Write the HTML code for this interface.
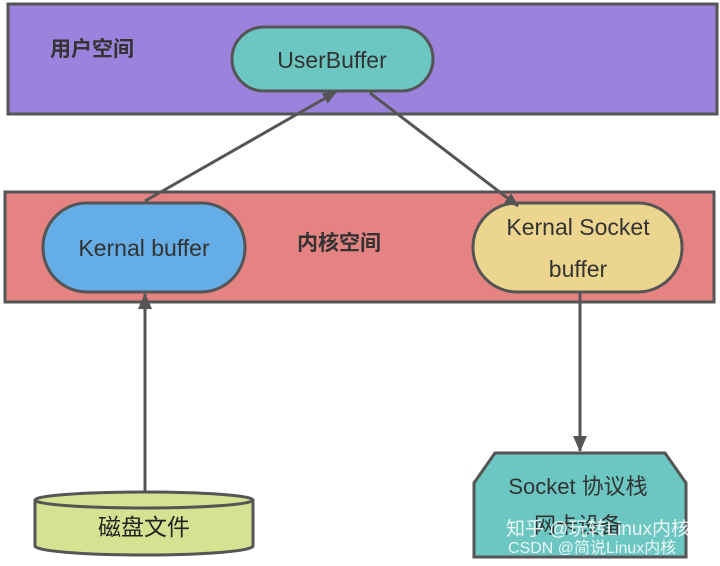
<!DOCTYPE html>
<html><head><meta charset="utf-8"><style>
body{margin:0;background:#fff;width:720px;height:561px;overflow:hidden}
text{font-family:"Liberation Sans","Noto Sans CJK SC",sans-serif}
</style></head><body>
<svg width="720" height="561" viewBox="0 0 720 561">
<defs><marker id="a" markerWidth="14" markerHeight="14" refX="13" refY="7" orient="auto" markerUnits="userSpaceOnUse" viewBox="0 0 14 14"><path d="M0,1 L14,7 L0,13 z" fill="#555"/></marker>
<marker id="b" markerWidth="16" markerHeight="16" refX="15" refY="8" orient="auto" markerUnits="userSpaceOnUse" viewBox="0 0 16 16"><path d="M0,1 L16,8 L0,15 z" fill="#555"/></marker></defs>
<rect x="8" y="4" width="709" height="110" fill="#9b82dc" stroke="#555" stroke-width="3"/>
<rect x="5" y="192" width="709" height="110" fill="#e58383" stroke="#555" stroke-width="3"/>
<text x="50" y="56" font-size="21" font-weight="bold" fill="#333">用户空间</text>
<text x="297" y="250" font-size="21" font-weight="bold" fill="#333">内核空间</text>
<rect x="232" y="27" width="201" height="64" rx="32" fill="#6cc6c2" stroke="#555" stroke-width="3"/>
<text x="332" y="68" font-size="23" text-anchor="middle" fill="#333">UserBuffer</text>
<rect x="43" y="203" width="202" height="89" rx="44" fill="#65ade6" stroke="#555" stroke-width="3"/>
<text x="144" y="256" font-size="23" text-anchor="middle" fill="#333">Kernal buffer</text>
<rect x="473" y="203" width="209" height="89" rx="44" fill="#ecd58e" stroke="#555" stroke-width="3"/>
<text x="578" y="235" font-size="23" text-anchor="middle" fill="#333">Kernal Socket</text>
<text x="578" y="277" font-size="23" text-anchor="middle" fill="#333">buffer</text>
<line x1="145" y1="201" x2="336" y2="92" stroke="#555" stroke-width="3" marker-end="url(#a)"/>
<line x1="370" y1="93" x2="518" y2="206" stroke="#555" stroke-width="3" marker-end="url(#a)"/>
<line x1="145" y1="492" x2="145" y2="294" stroke="#555" stroke-width="3" marker-end="url(#b)"/>
<line x1="580" y1="293" x2="580" y2="451" stroke="#555" stroke-width="3" marker-end="url(#b)"/>
<path d="M35,500 L35,546 A109,9 0 0 0 253,546 L253,500" fill="#d4e291" stroke="#555" stroke-width="3"/>
<ellipse cx="144" cy="500" rx="109" ry="8" fill="#d4e291" stroke="#555" stroke-width="3"/>
<text x="144" y="535" font-size="23" text-anchor="middle" fill="#222">磁盘文件</text>
<path d="M495,453 L665,453 L686,483 L686,557 L474,557 L474,483 Z" fill="#6cc6c2" stroke="#555" stroke-width="3"/>
<text x="578" y="494" font-size="22" text-anchor="middle" fill="#333">Socket 协议栈</text>
<text x="578" y="533" font-size="22" text-anchor="middle" fill="#333">网卡设备</text>
<text x="506" y="535" font-size="19" fill="#fff" opacity="0.85">知乎 @玩转Linux内核</text>
<text x="508" y="553" font-size="16" fill="#fff" opacity="0.85">CSDN @简说Linux内核</text>
</svg>
</body></html>
